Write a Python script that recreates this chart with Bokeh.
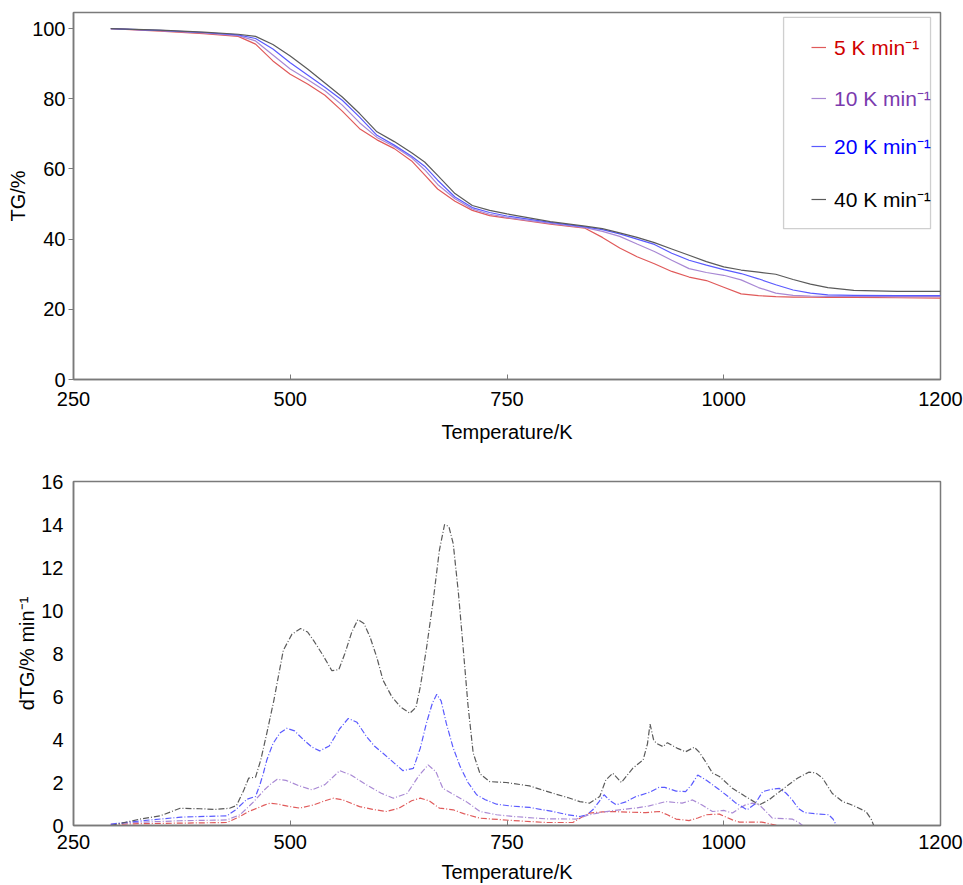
from bokeh.plotting import figure
from bokeh.models import Legend, LegendItem, BoxAnnotation, Range1d, FixedTicker
from bokeh.layouts import column
from bokeh.embed import file_html
from bokeh.resources import INLINE

FONT = "Liberation Sans"

# ---------------- data ----------------
series_labels = ["5 K min\u207b\u00b9", "10 K min\u207b\u00b9", "20 K min\u207b\u00b9", "40 K min\u207b\u00b9"]
line_colors = ["#e05a5a", "#a888d4", "#5a5aff", "#5a5a5a"]
text_colors = ["#d00000", "#7a3aae", "#0000ff", "#000000"]

x_ticks = [250, 500, 750, 1000, 1250]
x_tick_labels = ["250", "500", "750", "1000", "1200"]
tg_ticks = [0, 20, 40, 60, 80, 100]
dtg_ticks = [0, 2, 4, 6, 8, 10, 12, 14, 16]

# TG curves
t_tg = [293, 350, 400, 440, 460, 480, 500, 520, 540, 560,
        580, 600, 620, 640, 655, 670, 690, 710, 730, 750,
        800, 840, 860, 880, 900, 920, 940, 960, 980, 1000,
        1020, 1040, 1060, 1080, 1100, 1120, 1150, 1200, 1250]
tg_5 = [100, 99.3, 98.6, 97.8, 95.6, 90.8, 87.0, 84.2, 81.0, 76.5,
        71.5, 68.3, 65.8, 62.3, 58.3, 54.3, 50.8, 48.2, 46.7, 46.0,
        44.3, 43.1, 40.5, 37.5, 35.0, 33.0, 30.8, 29.2, 28.2, 26.3,
        24.4, 23.9, 23.6, 23.5, 23.5, 23.4, 23.4, 23.3, 23.2]
tg_10 = [100, 99.4, 98.8, 98.0, 96.5, 92.5, 88.5, 85.5, 82.3, 78.2,
         73.2, 69.0, 66.4, 63.2, 59.8, 55.6, 51.5, 48.6, 47.1, 46.2,
         44.5, 43.3, 42.2, 40.8, 38.6, 36.5, 34.0, 31.6, 30.5, 29.7,
         28.4, 26.2, 24.6, 24.0, 23.8, 23.7, 23.7, 23.6, 23.6]
tg_20 = [100, 99.5, 98.9, 98.2, 97.2, 94.2, 90.3, 86.8, 83.3, 79.6,
         74.8, 69.6, 66.8, 63.6, 60.8, 56.8, 52.0, 49.0, 47.6, 46.6,
         44.8, 43.5, 42.7, 41.5, 40.0, 38.5, 36.0, 34.0, 32.6, 31.3,
         30.2, 28.7, 27.0, 25.5, 24.6, 24.1, 24.0, 23.9, 23.9]
tg_40 = [100, 99.6, 99.0, 98.4, 97.8, 95.5, 92.2, 88.5, 84.5, 80.5,
         75.8, 70.6, 67.8, 64.6, 62.0, 58.2, 53.0, 49.6, 48.2, 47.2,
         45.0, 43.7, 43.0, 41.8, 40.5, 39.0, 37.2, 35.4, 33.6, 32.1,
         31.2, 30.6, 30.0, 28.5, 27.2, 26.2, 25.4, 25.1, 25.1]

# dTG curves
t_d5 = [293, 319, 373, 427, 442, 452, 462, 470, 477, 485,
        497, 511, 527, 540, 550, 560, 580, 595, 611, 625,
        640, 650, 660, 672, 688, 700, 719, 757, 795, 826,
        834, 845, 860, 872, 890, 910, 926, 935, 945, 960,
        970, 980, 995, 1010, 1018, 1044, 1056, 1062, 1200, 1250]
dtg_5 = [0.05, 0.08, 0.11, 0.14, 0.42, 0.65, 0.81, 0.95, 1.04, 1.0,
         0.9, 0.81, 0.96, 1.15, 1.27, 1.2, 0.88, 0.75, 0.65, 0.8,
         1.15, 1.27, 1.15, 0.81, 0.73, 0.55, 0.34, 0.23, 0.14, 0.14,
         0.34, 0.58, 0.63, 0.65, 0.62, 0.6, 0.65, 0.5, 0.3, 0.23,
         0.35, 0.5, 0.53, 0.26, 0.16, 0.16, 0.05, 0, 0, 0]

t_d10 = [293, 319, 373, 427, 442, 450, 458, 470, 478, 485,
         495, 510, 525, 540, 557, 570, 588, 605, 619, 635,
         648, 659, 668, 676, 690, 703, 719, 738, 757, 795,
         830, 845, 860, 880, 900, 914, 933, 952, 964, 975,
         987, 1000, 1010, 1018, 1025, 1033, 1041, 1050, 1056, 1070,
         1079, 1086, 1091, 1200, 1250]
dtg_10 = [0.05, 0.14, 0.22, 0.26, 0.5, 0.8, 1.11, 1.65, 1.95, 2.15,
          2.1, 1.85, 1.66, 1.9, 2.55, 2.35, 1.89, 1.5, 1.27, 1.5,
          2.3, 2.82, 2.5, 1.73, 1.4, 1.11, 0.65, 0.5, 0.42, 0.31,
          0.3, 0.5, 0.62, 0.73, 0.82, 0.91, 1.11, 1.04, 1.19, 0.95,
          0.65, 0.7, 0.58, 0.8, 0.96, 1.04, 0.96, 0.6, 0.34, 0.32,
          0.3, 0.15, 0, 0, 0]

t_d20 = [293, 300, 339, 374, 427, 437, 450, 460, 465, 469,
         473, 480, 488, 496, 505, 515, 525, 534, 545, 557,
         567, 577, 588, 597, 607, 620, 630, 642, 650, 657,
         664, 669, 674, 680, 688, 696, 705, 715, 725, 738,
         756, 776, 803, 820, 834, 842, 849, 856, 862, 869,
         876, 887, 899, 915, 925, 932, 945, 956, 963, 970,
         980, 995, 1005, 1014, 1027, 1036, 1045, 1055, 1064, 1072,
         1079, 1086, 1093, 1105, 1121, 1126, 1130, 1200, 1250]
dtg_20 = [0.05, 0.1, 0.26, 0.39, 0.45, 0.73, 1.22, 1.35, 1.9, 2.43,
          3.05, 3.8, 4.3, 4.52, 4.4, 4.0, 3.65, 3.47, 3.7, 4.5,
          4.98, 4.8, 4.13, 3.7, 3.36, 2.9, 2.55, 2.66, 3.6, 4.75,
          5.7, 6.1, 5.8, 4.75, 3.6, 2.74, 2.0, 1.43, 1.2, 0.99,
          0.9, 0.84, 0.65, 0.5, 0.42, 0.5, 0.73, 1.1, 1.43, 1.15,
          0.96, 1.1, 1.35, 1.55, 1.77, 1.77, 1.6, 1.58, 1.9, 2.35,
          2.1, 1.66, 1.35, 1.04, 0.73, 1.0, 1.58, 1.68, 1.73, 1.5,
          1.19, 0.8, 0.6, 0.55, 0.5, 0.3, 0, 0, 0]

t_d40 = [293, 310, 327, 350, 373, 396, 414, 430, 438, 446,
         452, 460, 466, 473, 481, 492, 502, 512, 520, 527,
         538, 548, 556, 563, 571, 578, 585, 592, 600, 607,
         617, 627, 638, 645, 650, 657, 665, 672, 678, 683,
         688, 694, 699, 705, 711, 719, 730, 749, 776, 803,
         820, 834, 845, 857, 864, 872, 882, 895, 907, 912,
         915, 919, 922, 930, 935, 946, 956, 966, 972, 979,
         987, 995, 1010, 1025, 1041, 1052, 1062, 1072, 1085, 1098,
         1106, 1114, 1125, 1137, 1145, 1152, 1164, 1170, 1173, 1200,
         1250]
dtg_40 = [0, 0.15, 0.3, 0.45, 0.8, 0.78, 0.75, 0.8, 0.93, 1.6,
          2.2, 2.25, 3.05, 4.3, 5.8, 8.15, 8.9, 9.16, 9.0, 8.6,
          7.9, 7.2, 7.25, 8.0, 9.0, 9.58, 9.4, 8.77, 7.8, 6.76,
          6.0, 5.52, 5.22, 5.5, 6.45, 8.2, 10.5, 12.8, 14.0, 13.9,
          13.1, 10.8, 8.47, 5.6, 3.37, 2.4, 2.04, 2.0, 1.84, 1.5,
          1.3, 1.11, 1.04, 1.35, 2.12, 2.43, 2.0, 2.66, 3.05, 3.8,
          4.72, 4.0, 3.83, 3.67, 3.85, 3.6, 3.43, 3.64, 3.4, 2.97,
          2.44, 2.28, 1.73, 1.35, 0.96, 1.19, 1.5, 1.81, 2.2, 2.48,
          2.45, 2.2, 1.5, 1.11, 1.0, 0.88, 0.65, 0.3, 0, 0,
          0]

tg_series = [tg_5, tg_10, tg_20, tg_40]
dtg_series = [(t_d5, dtg_5), (t_d10, dtg_10), (t_d20, dtg_20), (t_d40, dtg_40)]

AX = "#7a7a7a"
FS = "20px"


def style(p, yticks, ytick_out, xlab_standoff, xaxis_standoff):
    p.xgrid.visible = False
    p.ygrid.visible = False
    p.outline_line_color = AX
    p.outline_line_width = 1.5
    p.background_fill_color = "white"
    p.border_fill_color = "white"
    for ax in (p.xaxis[0], p.yaxis[0]):
        ax.axis_line_color = AX
        ax.axis_line_width = 1.5
        ax.major_tick_line_color = AX
        ax.minor_tick_line_color = None
        ax.major_label_text_font = FONT
        ax.major_label_text_font_size = FS
        ax.major_label_text_color = "black"
        ax.axis_label_text_font = FONT
        ax.axis_label_text_font_size = FS
        ax.axis_label_text_font_style = "normal"
        ax.axis_label_text_color = "black"
    xa = p.xaxis[0]
    xa.ticker = FixedTicker(ticks=x_ticks)
    xa.major_label_overrides = {t: l for t, l in zip(x_ticks, x_tick_labels)}
    xa.major_tick_in = 5
    xa.major_tick_out = 0
    xa.major_label_standoff = xlab_standoff
    xa.axis_label = "Temperature/K"
    xa.axis_label_standoff = xaxis_standoff
    ya = p.yaxis[0]
    ya.ticker = FixedTicker(ticks=yticks)
    ya.major_tick_in = 0
    ya.major_tick_out = ytick_out
    ya.major_label_standoff = 3 if ytick_out else 10
    ya.axis_label_standoff = 0


# ---------------- top: TG ----------------
p1 = figure(width=963, height=445, x_range=Range1d(250, 1250), y_range=Range1d(0, 104.6),
            output_backend="svg", toolbar_location=None,
            min_border_left=71, min_border_right=23, min_border_top=12, min_border_bottom=66)
style(p1, tg_ticks, 5, 12, 12)
p1.yaxis[0].axis_label = "TG/%"

renderers = []
for ys, c in zip(tg_series, line_colors):
    r = p1.line(t_tg, ys, line_color=c, line_width=1.2)
    renderers.append(r)

# legend frame
p1.add_layout(BoxAnnotation(left=1069, right=1238.5, bottom=43.0, top=103.2,
                            fill_alpha=0, line_color="#606060", line_width=1.3))
leg_y = [318, 267, 219, 166]
for lab, r, tc, yy in zip(series_labels, renderers, text_colors, leg_y):
    leg = Legend(items=[LegendItem(label=lab, renderers=[r])], location=(738, yy),
                 border_line_alpha=0, background_fill_alpha=0, padding=0, margin=0,
                 label_text_color=tc, label_text_font=FONT, label_text_font_size="21px",
                 glyph_width=15, glyph_height=20, label_height=20, label_standoff=8)
    p1.add_layout(leg)

# ---------------- bottom: dTG ----------------
p2 = figure(width=963, height=440, x_range=Range1d(250, 1250), y_range=Range1d(0, 16),
            output_backend="svg", toolbar_location=None,
            min_border_left=73, min_border_right=23, min_border_top=36, min_border_bottom=59)
style(p2, dtg_ticks, 0, 9, 9)
p2.yaxis[0].axis_label = "dTG/% min\u207b\u00b9"

for (ts, vs), c in zip(dtg_series, line_colors):
    p2.line(ts, vs, line_color=c, line_width=1.2, line_dash="6 2 1 2")

layout = column(p1, p2)
open("out.html", "w").write(file_html(layout, INLINE))
